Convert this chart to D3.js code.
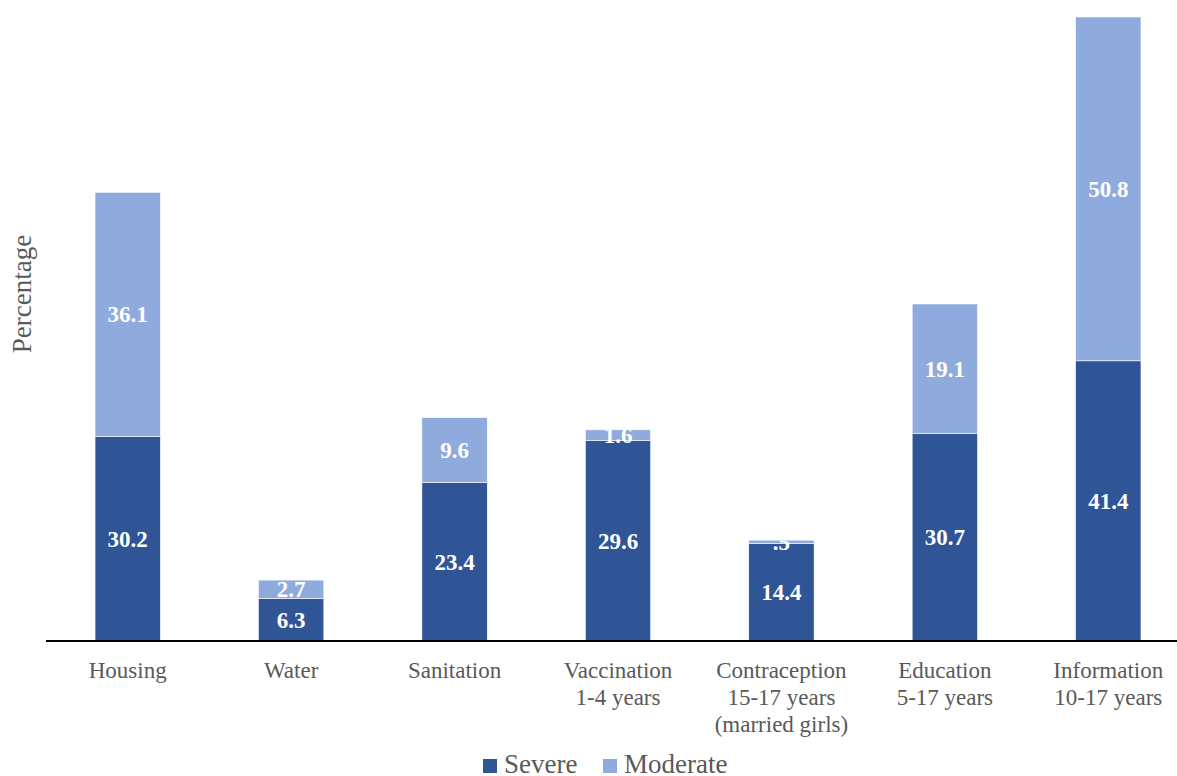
<!DOCTYPE html>
<meta charset="utf-8">
<style>
  body { margin: 0; background: #fff; }
  svg text { font-family: "Liberation Serif", "Times New Roman", serif; }
</style>
<svg id="chart" width="1177" height="776"></svg>
<script src="https://cdn.jsdelivr.net/npm/d3@7"></script>
<script>

// categories (label lines) and the two stacked series
var categories = ["Housing", "Water", "Sanitation", "Vaccination", "Contraception", "Education", "Information"];
var catLabels = [
  ["Housing"],
  ["Water"],
  ["Sanitation"],
  ["Vaccination", "1-4 years"],
  ["Contraception", "15-17 years", "(married girls)"],
  ["Education", "5-17 years"],
  ["Information", "10-17 years"]
];
var severe = [30.2, 6.3, 23.4, 29.6, 14.4, 30.7, 41.4];
var moderate = [36.1, 2.7, 9.6, 1.6, 0.5, 19.1, 50.8];
var seriesNames = ["Severe", "Moderate"];
var labelText = [
  ["30.2", "6.3", "23.4", "29.6", "14.4", "30.7", "41.4"],
  ["36.1", "2.7", "9.6", "1.6", ".5", "19.1", "50.8"]
];

var colors = {Severe: "#2F5597", Moderate: "#8FAADC"};

var svg = d3.select("#chart");

var rows = categories.map(function(c, i) {
  return {cat: c, Severe: severe[i], Moderate: moderate[i]};
});

var stack = d3.stack().keys(seriesNames)(rows);

var x = d3.scaleBand()
    .domain(categories)
    .range([46, 1190])
    .paddingInner(0.6)
    .paddingOuter(0.3);

var maxTotal = d3.max(rows, function(d) { return d.Severe + d.Moderate; });
var y = d3.scaleLinear()
    .domain([0, maxTotal])
    .range([641, 17]);

// bars
var layer = svg.selectAll("g.layer")
  .data(stack)
  .enter().append("g")
    .attr("class", "layer")
    .attr("fill", function(d) { return colors[d.key]; });

layer.selectAll("rect")
  .data(function(d) { return d; })
  .enter().append("rect")
    .attr("x", function(d) { return x(d.data.cat); })
    .attr("y", function(d) { return y(d[1]); })
    .attr("width", x.bandwidth())
    .attr("height", function(d) { return y(d[0]) - y(d[1]); })
    .attr("stroke", "#fff")
    .attr("stroke-width", 0.6);

// value labels
stack.forEach(function(s, si) {
  svg.append("g").selectAll("text")
    .data(s)
    .enter().append("text")
      .attr("x", function(d) { return x(d.data.cat) + x.bandwidth() / 2; })
      .attr("y", function(d) { return (y(d[0]) + y(d[1])) / 2; })
      .attr("dy", "0.35em")
      .attr("text-anchor", "middle")
      .attr("fill", "#fff")
      .attr("font-weight", "bold")
      .attr("font-size", "23px")
      .text(function(d, i) { return labelText[si][i]; });
});

// x axis line
var xAxis = svg.append("g")
    .attr("transform", "translate(0,641)")
    .call(d3.axisBottom(x).tickSize(0).tickFormat(""));
xAxis.select(".domain")
    .attr("d", "M46,0H1190")
    .attr("stroke", "#000")
    .attr("stroke-width", 2);

// category labels
var catG = svg.append("g").selectAll("text")
  .data(categories)
  .enter().append("text")
    .attr("x", function(d) { return x(d) + x.bandwidth() / 2; })
    .attr("y", 678)
    .attr("text-anchor", "middle")
    .attr("fill", "#595959")
    .attr("font-size", "23px");

catG.selectAll("tspan")
  .data(function(d, i) { return catLabels[i]; })
  .enter().append("tspan")
    .attr("x", function() { return this.parentNode.getAttribute("x"); })
    .attr("dy", function(d, i) { return i === 0 ? 0 : 27; })
    .text(function(d) { return d; });

// y title
svg.append("text")
    .attr("transform", "translate(31,294) rotate(-90)")
    .attr("text-anchor", "middle")
    .attr("fill", "#595959")
    .attr("font-size", "27px")
    .text("Percentage");

// legend
var legend = svg.append("g").selectAll("g")
  .data(seriesNames)
  .enter().append("g")
    .attr("transform", function(d, i) { return "translate(" + (483 + i * 120) + ",759)"; });

legend.append("rect")
    .attr("width", 14)
    .attr("height", 14)
    .attr("fill", function(d) { return colors[d]; });

legend.append("text")
    .attr("x", 21)
    .attr("y", 14)
    .attr("fill", "#595959")
    .attr("font-size", "27px")
    .text(function(d) { return d; });
</script>
